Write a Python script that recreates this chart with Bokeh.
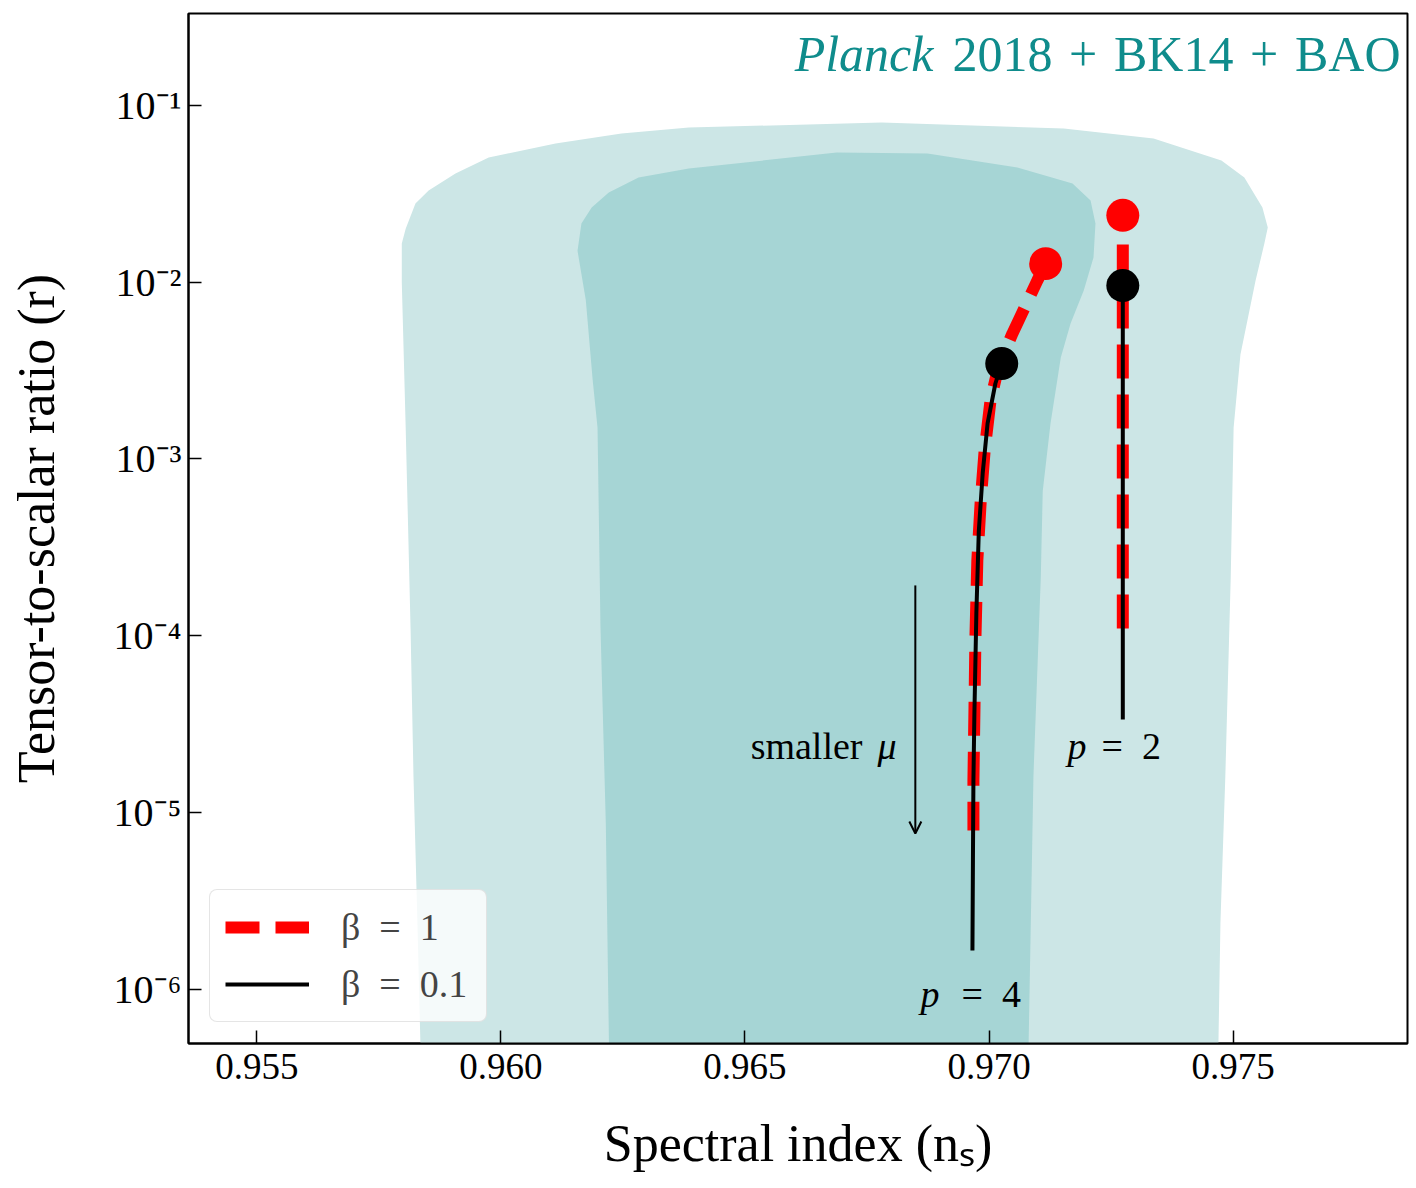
from bokeh.plotting import figure
from bokeh.models import (Range1d, FixedTicker, PrintfTickFormatter, CustomJSTickFormatter,
                          Label, Arrow, OpenHead, Legend, LegendItem)
from bokeh.embed import file_html
from bokeh.resources import INLINE

# Planck 2018 + BK14 + BAO constraints: 95% (outer) and 68% (inner) regions
outer_ns = [0.95838, 0.95829, 0.95821, 0.95815, 0.95805, 0.95797, 0.95797, 0.95805,
            0.95825, 0.95852, 0.95907, 0.95975, 0.96112, 0.96247, 0.96385, 0.96780,
            0.97153, 0.97337, 0.97476, 0.97523, 0.97560, 0.97571, 0.97564, 0.97546,
            0.97515, 0.97501, 0.97495, 0.97484, 0.97474, 0.97468]
outer_r = [2.4e-7, 2.4e-6, 1.6e-5, 1.1e-4, 1.5e-3, 1.0e-2, 1.65e-2, 2.0e-2,
           2.78e-2, 3.29e-2, 4.1e-2, 5.05e-2, 6.06e-2, 6.9e-2, 7.46e-2, 7.96e-2,
           7.37e-2, 6.47e-2, 4.86e-2, 3.89e-2, 2.64e-2, 2.03e-2, 1.65e-2, 1.02e-2,
           3.9e-3, 1.5e-3, 2.1e-4, 1.6e-5, 2.4e-6, 2.4e-7]

inner_ns = [0.96223, 0.96215, 0.96204, 0.96198, 0.96188, 0.96174, 0.96157, 0.96165,
            0.96186, 0.96221, 0.96282, 0.96385, 0.96688, 0.96874, 0.97058, 0.97171,
            0.97208, 0.97218, 0.97214, 0.97194, 0.97167, 0.97147, 0.97126, 0.97110,
            0.97106, 0.97091, 0.97079]
inner_r = [2.4e-7, 8.6e-6, 1.13e-4, 1.5e-3, 2.8e-3, 7.9e-3, 1.5e-2, 2.14e-2,
           2.64e-2, 3.20e-2, 3.89e-2, 4.38e-2, 5.39e-2, 5.32e-2, 4.44e-2, 3.60e-2,
           2.89e-2, 2.14e-2, 1.375e-2, 8.95e-3, 5.83e-3, 3.74e-3, 1.59e-3, 6.6e-4,
           2.14e-4, 1.63e-5, 2.4e-7]

# p = 4 predictions
p4_beta1_ns = [0.97116, 0.97099, 0.97075, 0.97048, 0.97020, 0.97003, 0.96991,
               0.96983, 0.96976, 0.96972, 0.96970, 0.96968, 0.96968]
p4_beta1_r = [1.27e-2, 1.02e-2, 7.37e-3, 5.12e-3, 3.38e-3, 2.14e-3, 1.12e-3,
              5.83e-4, 2.67e-4, 9.43e-5, 3.65e-5, 1.53e-5, 7.96e-6]

p4_beta01_ns = [0.97026, 0.97013, 0.96997, 0.96987, 0.96979, 0.96974, 0.96970,
                0.96968, 0.96967, 0.96966]
p4_beta01_r = [3.46e-3, 2.67e-3, 1.59e-3, 8.3e-4, 3.9e-4, 1.34e-4, 3.65e-5,
               1.53e-5, 5.4e-6, 1.67e-6]

# p = 2 predictions
p2_beta1_ns = [0.97274, 0.97274]
p2_beta1_r = [1.63e-2, 1.07e-4]
p2_beta01_ns = [0.97274, 0.97274]
p2_beta01_r = [9.55e-3, 3.37e-5]

# large-mu end points of each track
end_beta1_ns = [0.97116, 0.97274]
end_beta1_r = [1.27e-2, 2.38e-2]
end_beta01_ns = [0.97026, 0.97274]
end_beta01_r = [3.46e-3, 9.55e-3]

# "smaller mu" arrow
arrow_ns = 0.96849
arrow_r_start = 1.93e-4
arrow_r_end = 7.66e-6

x_ticks = [0.955, 0.960, 0.965, 0.970, 0.975]
y_ticks = [1e-6, 1e-5, 1e-4, 1e-3, 1e-2, 1e-1]

FONT = "Liberation Serif"
OUTER_COLOR = "#cce6e6"
INNER_COLOR = "#a6d5d5"
TITLE_COLOR = "#0f8c8c"

p = figure(width=1416, height=1188, output_backend="svg", toolbar_location=None,
           y_axis_type="log",
           x_range=Range1d(0.953601, 0.978572), y_range=Range1d(4.98e-7, 0.329),
           min_border_left=188, min_border_right=9, min_border_top=13, min_border_bottom=145)
p.background_fill_color = "white"
p.border_fill_color = "white"
p.outline_line_color = "black"
p.outline_line_width = 2
p.xgrid.visible = False
p.ygrid.visible = False

# confidence regions
p.patch(outer_ns, outer_r, fill_color=OUTER_COLOR, line_color=None)
p.patch(inner_ns, inner_r, fill_color=INNER_COLOR, line_color=None)

# model tracks
dash = "34 16"
r_b1 = p.line(p4_beta1_ns, p4_beta1_r, line_color="red", line_width=12, line_dash=dash)
p.line(p2_beta1_ns, p2_beta1_r, line_color="red", line_width=12, line_dash=dash)
r_b01 = p.line(p4_beta01_ns, p4_beta01_r, line_color="black", line_width=4)
p.line(p2_beta01_ns, p2_beta01_r, line_color="black", line_width=4)

p.scatter(end_beta1_ns, end_beta1_r, size=33, fill_color="red", line_color=None)
p.scatter(end_beta01_ns, end_beta01_r, size=33, fill_color="black", line_color=None)

p.add_layout(Arrow(end=OpenHead(size=12, line_width=2, line_color="black"),
                   x_start=arrow_ns, y_start=arrow_r_start,
                   x_end=arrow_ns, y_end=arrow_r_end,
                   line_width=2, line_color="black"))

# axes
p.xaxis.ticker = FixedTicker(ticks=x_ticks)
p.xaxis.formatter = PrintfTickFormatter(format="%.3f")
p.yaxis.ticker = FixedTicker(ticks=y_ticks)
p.yaxis.formatter = CustomJSTickFormatter(code="""
const sup = {'-': '\u207b', '0': '\u2070', '1': '\u00b9', '2': '\u00b2', '3': '\u00b3',
             '4': '\u2074', '5': '\u2075', '6': '\u2076', '7': '\u2077', '8': '\u2078', '9': '\u2079'};
const e = Math.round(Math.log10(tick));
return '10' + String(e).split('').map(c => sup[c]).join('');
""")
p.xaxis.axis_label = "Spectral index (n\u209b)"
p.yaxis.axis_label = "Tensor-to-scalar ratio (r)"
for ax in (p.xaxis[0], p.yaxis[0]):
    ax.major_tick_in = 13
    ax.major_tick_out = 0
    ax.major_tick_line_width = 1.5
    ax.major_tick_line_color = "black"
    ax.minor_tick_line_color = None
    ax.axis_line_width = 2
    ax.axis_line_color = "black"
    ax.major_label_text_font = FONT
    ax.major_label_text_font_size = "37px"
    ax.major_label_text_color = "black"
    ax.axis_label_text_font = FONT
    ax.axis_label_text_font_size = "52px"
    ax.axis_label_text_font_style = "normal"
    ax.axis_label_text_color = "black"
p.yaxis.major_label_text_font_size = "40px"
p.xaxis.major_label_standoff = 10
p.xaxis.axis_label_standoff = 33
p.yaxis.major_label_standoff = 7
p.yaxis.axis_label_standoff = 46

# texts inside the frame (screen offsets from the frame's lower-left corner)
def add_text(text, x, y, size, align="left", style="normal", color="black"):
    p.add_layout(Label(x=x, y=y, x_units="screen", y_units="screen", text=text,
                       text_font=FONT, text_font_size=size, text_font_style=style,
                       text_color=color, text_align=align, text_baseline="alphabetic"))

add_text("Planck", 745, 990, "50px", align="right", style="italic", color=TITLE_COLOR)
add_text("2018\u2004+\u2004BK14\u2004+\u2004BAO", 1212, 990, "50px", align="right", color=TITLE_COLOR)

add_text("smaller", 674, 298, "38px", align="right")
add_text("\u03bc", 689, 298, "38px", style="italic")
add_text("p", 879, 298, "38px", style="italic")
add_text("=\u20022", 913, 298, "38px")
add_text("p", 732, 50, "38px", style="italic")
add_text("=\u20024", 773, 50, "38px")

legend = Legend(items=[LegendItem(label="\u03b2\u2002=\u20021", renderers=[r_b1]),
                       LegendItem(label="\u03b2\u2002=\u20020.1", renderers=[r_b01])],
                location="bottom_left", margin=21, padding=15, spacing=13,
                glyph_width=84, glyph_height=40, label_standoff=32, label_width=130,
                label_text_font=FONT, label_text_font_size="38px",
                border_line_color="#cccccc", border_line_width=1.5,
                background_fill_color="white", background_fill_alpha=0.8,
                border_radius=8)
p.add_layout(legend)

open("out.html", "w").write(file_html(p, INLINE))
